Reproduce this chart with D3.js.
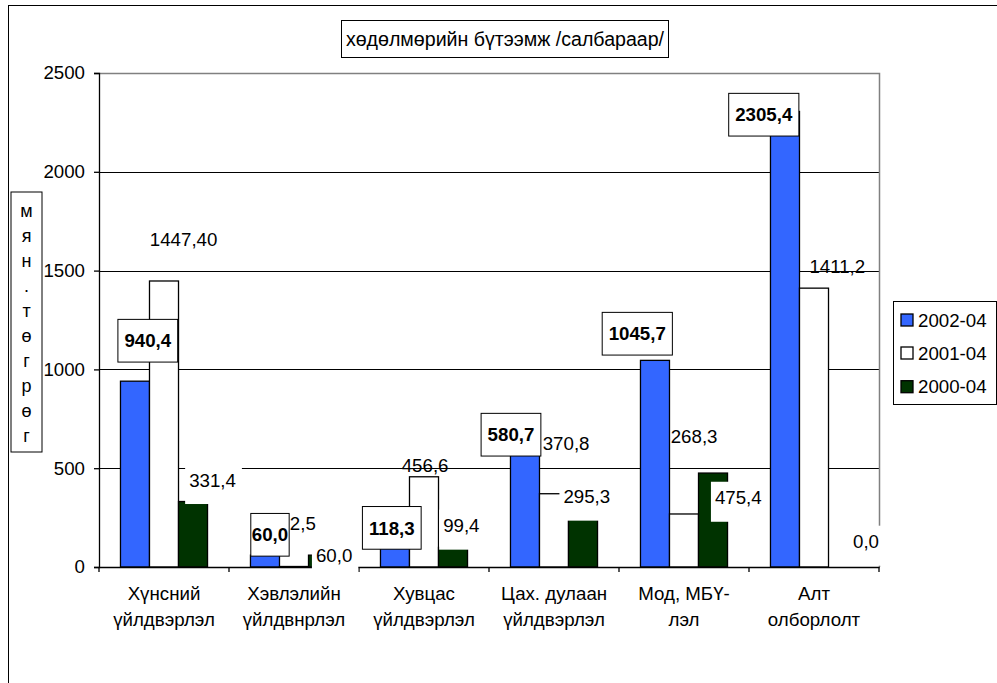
<!doctype html>
<html lang="mn">
<head>
  <meta charset="utf-8">
  <title>хөдөлмөрийн бүтээмж</title>
  <script src="https://d3js.org/d3.v7.min.js"></script>
  <style>
  body { margin: 0; background: #fff; }
  text { font-family: "Liberation Sans", Arial, sans-serif; fill: #000; }
  </style>
</head>
<body>
<div id="chart"></div>
<script>
  // data
  var categories = ["Хүнсний\nүйлдвэрлэл", "Хэвлэлийн\nүйлдвнрлэл", "Хувцас\nүйлдвэрлэл",
                    "Цах. дулаан\nүйлдвэрлэл", "Мод, МБҮ-\nлэл", "Алт\nолборлолт"];
  var series = ["2002-04", "2001-04", "2000-04"];
  var v2002 = [940.4, 60.0, 118.3, 580.7, 1045.7, 2305.4];
  var v2001 = [1447.4, 2.5, 456.6, 370.8, 268.3, 1411.2];
  var v2000 = [331.4, 60.0, 99.4, 295.3, 475.4, 0.0];
  // label text as printed on the chart
  var lab2002 = ["940,4", "60,0", "118,3", "580,7", "1045,7", "2305,4"];
  var lab2001 = ["1447,40", "2,5", "456,6", "370,8", "268,3", "1411,2"];
  var lab2000 = ["331,4", "60,0", "99,4", "295,3", "475,4", "0,0"];
  var yTicks = [0, 500, 1000, 1500, 2000, 2500];
  var title = "хөдөлмөрийн бүтээмж /салбараар/";
  var yTitle = "мян.төгрөг";

  var colors = ["#3366ff", "#ffffff", "#003300"];
  var values = [v2002, v2001, v2000];
  var labels = [lab2002, lab2001, lab2000];
  // manual label offsets (px from bar top centre), the labels were dragged by hand in the original
  var labOff = [
    [[12.8, -40.5], [5, -20.4], [-3.2, -15.8], [-14, -17.6], [-17.7, -26.7], [-21.2, 3.2]],
    [[19.6, -41.7], [8.8, -43.5], [1.1, -11.1], [12.1, -50.4], [10.1, -78], [23.3, -21.5]],
    [[19.5, -21.5], [11.1, -0.1], [8.3, -21.7], [3.8, -12], [25.3, 24.7], [23, -25.3]]
  ];
  // side padding of the bordered boxes (the 60,0 one is tight)
  var boxPad = [6.5, 1, 6.5, 6.5, 6.5, 6.5];

  var W = 997, H = 683, fs = 18.7;
  var plot = {left: 99, right: 879, top: 73, bottom: 567};

  var svg = d3.select("#chart").append("svg")
      .attr("width", W).attr("height", H);
  svg.append("rect").attr("width", W).attr("height", H).attr("fill", "#fff");

  // outer frame (runs off the right/bottom of the picture)
  svg.append("rect")
      .attr("x", 8.5).attr("y", 5.5).attr("width", 1000).attr("height", 700)
      .attr("fill", "none").attr("stroke", "#000");

  // scales
  var x0 = d3.scaleBand().domain(d3.range(categories.length))
      .range([plot.left, plot.right]).padding(0);
  var x1 = d3.scaleBand().domain(series)
      .range([0, x0.bandwidth()]).paddingInner(0).paddingOuter(0.74);
  var y = d3.scaleLinear().domain([0, 2500]).range([plot.bottom, plot.top]);

  // gridlines
  svg.append("g").selectAll("line")
      .data(yTicks.filter(function(d) { return d > 0 && d < 2500; }))
    .enter().append("line")
      .attr("x1", plot.left).attr("x2", plot.right)
      .attr("y1", function(d) { return Math.round(y(d)) + 0.5; })
      .attr("y2", function(d) { return Math.round(y(d)) + 0.5; })
      .attr("stroke", "#000").attr("stroke-width", 1);

  // plot area border (top + right), grey
  svg.append("path")
      .attr("d", "M" + plot.left + "," + (Math.round(y(2500)) + 0.5) +
                 "H" + (plot.right + 0.5) + "V" + plot.bottom)
      .attr("fill", "none").attr("stroke", "#808080").attr("stroke-width", 1.5);

  // bars
  var bars = [];
  series.forEach(function(s, si) {
    values[si].forEach(function(v, ci) {
      bars.push({s: s, si: si, ci: ci, v: v, label: labels[si][ci]});
    });
  });
  svg.append("g").selectAll("rect")
      .data(bars)
    .enter().append("rect")
      .attr("x", function(d) { return x0(d.ci) + x1(d.s); })
      .attr("y", function(d) { return y(d.v); })
      .attr("width", x1.bandwidth())
      .attr("height", function(d) { return y(0) - y(d.v); })
      .attr("fill", function(d) { return colors[d.si]; })
      .attr("stroke", "#000").attr("stroke-width", 1.3);

  // y axis
  var yAxis = svg.append("g")
      .attr("transform", "translate(" + plot.left + ",0)")
      .call(d3.axisLeft(y).tickValues(yTicks).tickFormat(d3.format("d"))
            .tickSize(5).tickPadding(9));
  yAxis.selectAll("text").style("font-size", fs + "px")
      .style("font-family", "'Liberation Sans', Arial, sans-serif");
  yAxis.selectAll("line,path").attr("stroke", "#000").attr("stroke-width", 1.3);

  // x axis: line + ticks at category boundaries
  var xAxis = svg.append("g")
      .attr("transform", "translate(0," + plot.bottom + ")")
      .call(d3.axisBottom(x0).tickSize(0).tickFormat(""));
  xAxis.select(".domain").attr("stroke", "#000").attr("stroke-width", 1.5);
  var bounds = x0.domain().map(function(c) { return x0(c); }).concat([plot.right]);
  xAxis.selectAll(".bound").data(bounds)
    .enter().append("line")
      .attr("x1", function(d) { return d; }).attr("x2", function(d) { return d; })
      .attr("y1", 0).attr("y2", 5)
      .attr("stroke", "#000").attr("stroke-width", 1.3);

  // category labels, two lines each
  var cl = svg.append("g").selectAll("text")
      .data(categories)
    .enter().append("text")
      .attr("text-anchor", "middle")
      .style("font-size", fs + "px");
  cl.each(function(d, i) {
    var t = d3.select(this);
    d.split("\n").forEach(function(line, k) {
      t.append("tspan")
        .attr("x", x0(i) + x0.bandwidth() / 2)
        .attr("y", 593 + k * 26)
        .attr("dy", "0.36em")
        .text(line);
    });
  });

  // data labels
  var lg = svg.append("g");
  bars.forEach(function(d) {
    var cx = x0(d.ci) + x1(d.s) + x1.bandwidth() / 2 + labOff[d.si][d.ci][0];
    var cy = y(d.v) + labOff[d.si][d.ci][1];
    var g = lg.append("g");
    var box = g.append("rect");
    var t = g.append("text")
        .attr("x", cx).attr("y", cy).attr("dy", "0.36em")
        .attr("text-anchor", "middle")
        .style("font-size", fs + "px")
        .style("font-weight", d.si == 0 ? "bold" : "normal")
        .text(d.label);
    var tw = t.node().getComputedTextLength();
    if (d.si == 0) {
      // bold label in a bordered box
      var p = boxPad[d.ci];
      box.attr("x", cx - tw / 2 - p).attr("y", cy - 21.3)
         .attr("width", tw + 2 * p).attr("height", 42.7)
         .attr("fill", "#fff").attr("stroke", "#000").attr("stroke-width", 1);
    } else if (d.si == 2) {
      // plain label with white background (hides what is behind it)
      box.attr("x", cx - tw / 2 - 4).attr("y", cy - 16)
         .attr("width", tw + 10).attr("height", 40)
         .attr("fill", "#fff");
    } else {
      box.remove();
    }
  });

  // title box
  var tg = svg.append("g");
  tg.append("rect")
      .attr("x", 341.5).attr("y", 20.5).attr("width", 327).attr("height", 37)
      .attr("fill", "#fff").attr("stroke", "#000");
  tg.append("text")
      .attr("x", 505).attr("y", 39).attr("dy", "0.36em")
      .attr("text-anchor", "middle")
      .style("font-size", "19.6px")
      .text(title);

  // y axis title, stacked letters
  var yt = svg.append("g");
  yt.append("rect")
      .attr("x", 11).attr("y", 192).attr("width", 31).attr("height", 260)
      .attr("fill", "#fff").attr("stroke", "#000");
  yt.selectAll("text")
      .data(yTitle.split(""))
    .enter().append("text")
      .attr("x", 26.5)
      .attr("y", function(d, i) { return 211 + i * 25; })
      .attr("dy", "0.36em")
      .attr("text-anchor", "middle")
      .style("font-size", "18px")
      .text(function(d) { return d; });

  // legend
  var leg = svg.append("g");
  leg.append("rect")
      .attr("x", 893.5).attr("y", 301.5).attr("width", 103).attr("height", 103)
      .attr("fill", "#fff").attr("stroke", "#000");
  var li = leg.selectAll(".item").data(series)
    .enter().append("g")
      .attr("transform", function(d, i) { return "translate(0," + [320, 353, 386.7][i] + ")"; });
  li.append("rect")
      .attr("x", 901).attr("y", -6).attr("width", 12).attr("height", 12)
      .attr("fill", function(d, i) { return colors[i]; })
      .attr("stroke", "#000").attr("stroke-width", 1.3);
  li.append("text")
      .attr("x", 918).attr("dy", "0.36em")
      .style("font-size", fs + "px")
      .text(function(d) { return d; });
</script>
</body>
</html>
